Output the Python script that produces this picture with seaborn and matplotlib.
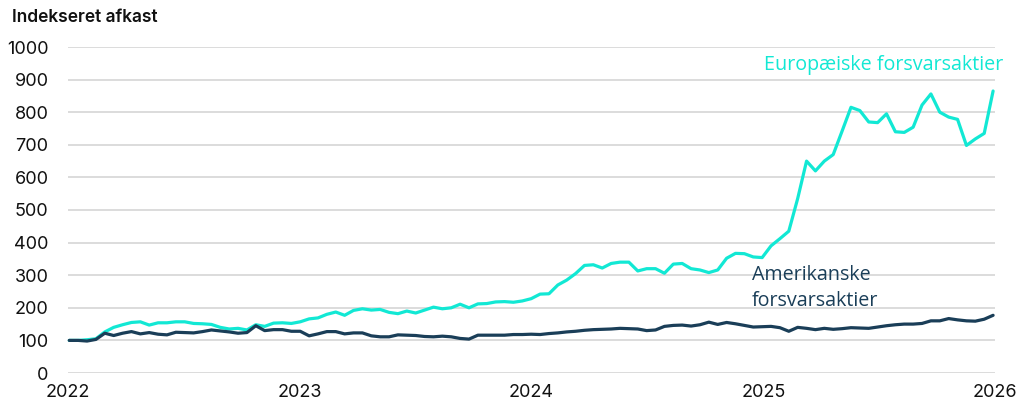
import numpy as np
import pandas as pd
import matplotlib
matplotlib.use("Agg")
import matplotlib.pyplot as plt
import seaborn as sns

# ---- data (biweekly) ----
start_date = "2022-01-03"
n_points = 105
europe = [100, 100, 102, 105, 126, 140, 148, 155, 157, 147,
          154, 154, 157, 157, 152, 151, 149, 140, 135, 137,
          132, 148, 143, 153, 154, 152, 157, 166, 169, 180,
          187, 177, 192, 197, 193, 195, 186, 182, 190, 184,
          193, 202, 197, 200, 211, 200, 212, 213, 218, 219,
          217, 221, 228, 242, 243, 270, 285, 305, 330, 332,
          322, 336, 340, 340, 313, 320, 320, 306, 334, 336,
          320, 316, 308, 316, 352, 367, 366, 356, 354, 390,
          412, 435, 535, 650, 620, 650, 670, 742, 815, 805,
          770, 768, 795, 740, 738, 754, 822, 856, 800, 785,
          778, 698, 718, 735, 865]
usa = [100, 100, 98, 103, 122, 115, 122, 127, 120, 124,
       119, 117, 125, 124, 123, 127, 132, 129, 126, 122,
       124, 145, 130, 133, 133, 128, 128, 114, 120, 127,
       127, 120, 123, 123, 114, 111, 111, 117, 116, 115,
       112, 111, 113, 111, 106, 104, 116, 116, 116, 116,
       118, 118, 119, 118, 121, 123, 126, 128, 131, 133,
       134, 135, 137, 136, 135, 130, 132, 143, 146, 147,
       144, 148, 156, 149, 155, 151, 146, 141, 142, 143,
       139, 128, 140, 137, 133, 137, 134, 136, 139, 138,
       137, 141, 145, 148, 150, 150, 152, 160, 160, 167,
       163, 160, 159, 165, 177]
series_names = ["Europæiske forsvarsaktier", "Amerikanske forsvarsaktier"]
y_ticks = [0, 100, 200, 300, 400, 500, 600, 700, 800, 900, 1000]
x_years = [2022, 2023, 2024, 2025, 2026]
title = "Indekseret afkast"

dates = pd.date_range(start_date, periods=n_points, freq="14D")
df = pd.DataFrame({
    "date": np.concatenate([dates, dates]),
    "value": europe + usa,
    "series": [series_names[0]] * n_points + [series_names[1]] * n_points,
})

cyan = "#12E8D4"
navy = "#1A3E58"

sns.set_theme(style="white")
plt.rcParams["font.family"] = ["Inter", "DejaVu Sans"]

fig = plt.figure(figsize=(10.24, 4.2), dpi=100)
ax = fig.add_axes([68 / 1024, 47 / 420, 927 / 1024, 326 / 420])

sns.lineplot(data=df, x="date", y="value", hue="series",
             palette={series_names[0]: cyan, series_names[1]: navy},
             linewidth=2.3, legend=False, ax=ax, clip_on=False)

ax.set_ylim(0, 1000)
ax.set_xlim(pd.Timestamp("2022-01-01"), pd.Timestamp("2026-01-01"))
ax.set_yticks(y_ticks)
ax.set_yticklabels([str(v) for v in y_ticks])
xt = [pd.Timestamp(f"{y}-01-01") for y in x_years]
ax.set_xticks(xt)
ax.set_xticklabels([str(y) for y in x_years])
ax.grid(axis="y", color="#DCDCDC", linewidth=1.4)
ax.grid(axis="x", visible=False)
ax.set_axisbelow(True)
for s in ax.spines.values():
    s.set_visible(False)
ax.tick_params(axis="y", length=0, pad=14, labelsize=13, labelcolor="#111111")
ax.tick_params(axis="x", length=0, pad=8, labelsize=13, labelcolor="#111111")
ax.set_xlabel("")
ax.set_ylabel("")

fig.text(12 / 1024, 1 - 18 / 420, title, fontsize=12.5, fontweight="semibold",
         color="#111111", ha="left", va="center")

ax.text(1.0086, 0.945, series_names[0], transform=ax.transAxes,
        ha="right", va="center", fontsize=14.2, color=cyan, family="Open Sans")
ax.text(0.738, 0.26, "Amerikanske\nforsvarsaktier", transform=ax.transAxes,
        ha="left", va="center", fontsize=14.2, color=navy, family="Open Sans",
        linespacing=1.38)

fig.savefig("out.png", dpi=100)
